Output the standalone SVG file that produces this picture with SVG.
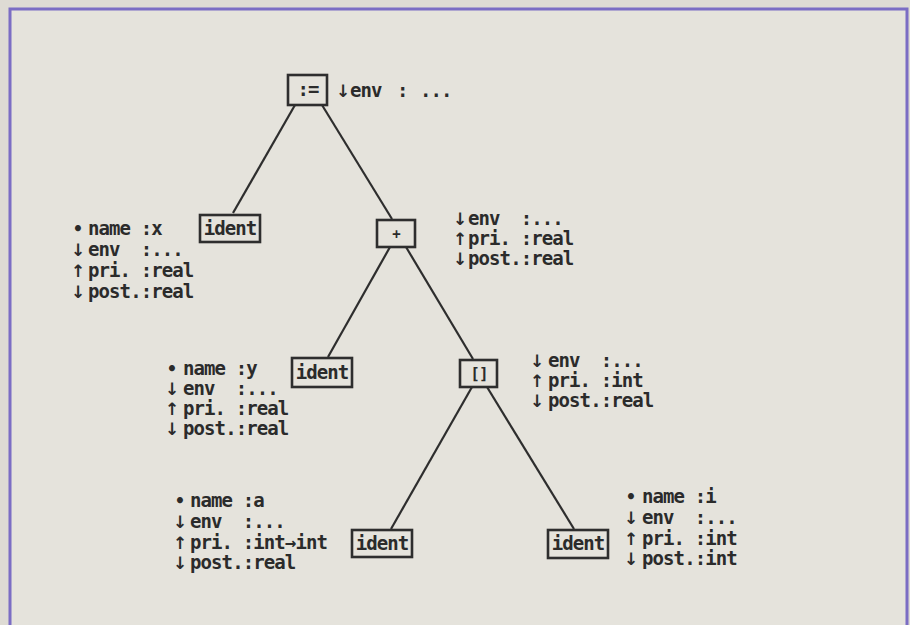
<svg xmlns="http://www.w3.org/2000/svg" width="910" height="625" viewBox="0 0 910 625">
<style>
.t{font-family:"DejaVu Sans Mono","Liberation Mono",monospace;font-weight:bold;font-size:19px;letter-spacing:-0.9px;fill:#2b2b2b;white-space:pre}
.s{font-family:"DejaVu Sans","Liberation Sans",sans-serif;font-weight:bold;font-size:17px;fill:#2b2b2b;text-anchor:middle}
.box{fill:none;stroke:#2e2e2e;stroke-width:2.6}
.lbl{text-anchor:middle}
.edge{stroke:#2e2e2e;stroke-width:2.2;fill:none}
</style>
<rect x="0" y="0" width="910" height="625" fill="#dedbd4"/>
<rect x="10" y="9" width="897" height="616" fill="#e5e3dc"/>
<g id="frame" fill="none" stroke="#7b6dc4" stroke-width="3">
<path d="M10 625 V9 H907 V625"/>
</g>
<g id="connectors">
<line class="edge" x1="295" y1="105" x2="233" y2="213"/>
<line class="edge" x1="322" y1="105" x2="392" y2="219"/>
<line class="edge" x1="390" y1="247" x2="328" y2="357"/>
<line class="edge" x1="406" y1="247" x2="473" y2="359"/>
<line class="edge" x1="472" y1="387" x2="391" y2="529"/>
<line class="edge" x1="487" y1="387" x2="574" y2="529"/>
</g>
<g id="assign">
<rect class="box" x="288" y="75" width="39" height="30"/>
<text class="t lbl" x="308" y="96">:=</text>
<text class="s" x="343" y="97">↓</text>
<text class="t" x="350" y="97">env</text>
<text class="t" x="397" y="97">:</text>
<text class="t" x="420" y="97">...</text>
</g>
<g id="ident-x">
<rect class="box" x="200" y="215" width="60" height="27"/>
<text class="t lbl" x="230" y="235">ident</text>
<text class="s" x="78" y="235">•</text><text class="t" x="88" y="235">name :x</text>
<text class="s" x="78" y="256">↓</text><text class="t" x="88" y="256">env  :...</text>
<text class="s" x="78" y="277">↑</text><text class="t" x="88" y="277">pri. :real</text>
<text class="s" x="78" y="298">↓</text><text class="t" x="88" y="298">post.:real</text>
</g>
<g id="plus">
<rect class="box" x="377" y="220" width="38" height="27"/>
<text class="t lbl" x="396" y="239" style="font-size:14px">+</text>
<text class="s" x="460" y="225">↓</text><text class="t" x="468" y="225">env  :...</text>
<text class="s" x="460" y="245">↑</text><text class="t" x="468" y="245">pri. :real</text>
<text class="s" x="460" y="265">↓</text><text class="t" x="468" y="265">post.:real</text>
</g>
<g id="ident-y">
<rect class="box" x="292" y="358" width="60" height="29"/>
<text class="t lbl" x="322" y="379">ident</text>
<text class="s" x="172" y="375">•</text><text class="t" x="183" y="375">name :y</text>
<text class="s" x="172" y="395">↓</text><text class="t" x="183" y="395">env  :...</text>
<text class="s" x="172" y="415">↑</text><text class="t" x="183" y="415">pri. :real</text>
<text class="s" x="172" y="435">↓</text><text class="t" x="183" y="435">post.:real</text>
</g>
<g id="index">
<rect class="box" x="460" y="360" width="37" height="27"/>
<text class="t lbl" x="479" y="379" style="font-size:16px">[]</text>
<text class="s" x="537" y="367">↓</text><text class="t" x="548" y="367">env  :...</text>
<text class="s" x="537" y="387">↑</text><text class="t" x="548" y="387">pri. :int</text>
<text class="s" x="537" y="407">↓</text><text class="t" x="548" y="407">post.:real</text>
</g>
<g id="ident-a">
<rect class="box" x="352" y="530" width="60" height="27"/>
<text class="t lbl" x="382" y="550">ident</text>
<text class="s" x="180" y="507">•</text><text class="t" x="190" y="507">name :a</text>
<text class="s" x="180" y="528">↓</text><text class="t" x="190" y="528">env  :...</text>
<text class="s" x="180" y="549">↑</text><text class="t" x="190" y="549">pri. :int→int</text>
<text class="s" x="180" y="569">↓</text><text class="t" x="190" y="569">post.:real</text>
</g>
<g id="ident-i">
<rect class="box" x="548" y="530" width="60" height="28"/>
<text class="t lbl" x="578" y="550">ident</text>
<text class="s" x="631" y="503">•</text><text class="t" x="642" y="503">name :i</text>
<text class="s" x="631" y="524">↓</text><text class="t" x="642" y="524">env  :...</text>
<text class="s" x="631" y="545">↑</text><text class="t" x="642" y="545">pri. :int</text>
<text class="s" x="631" y="565">↓</text><text class="t" x="642" y="565">post.:int</text>
</g>
</svg>
